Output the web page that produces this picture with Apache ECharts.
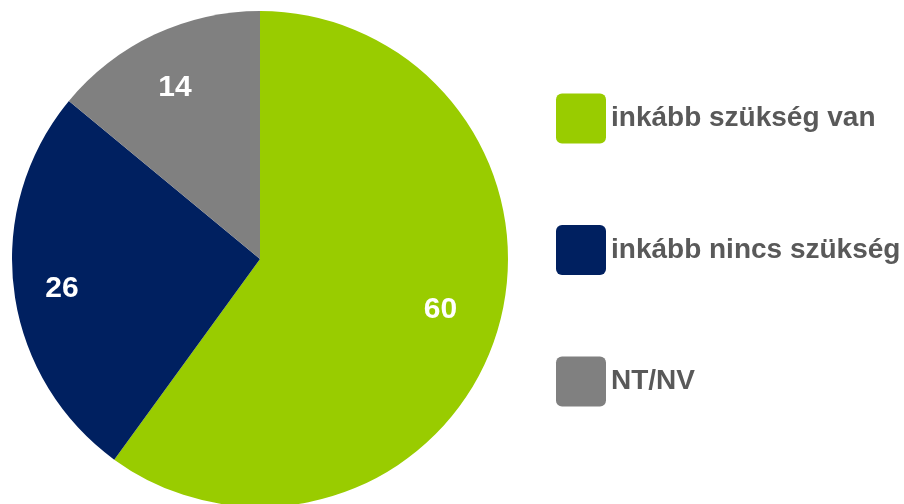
<!DOCTYPE html>
<html>
<head>
<meta charset="utf-8">
<script src="https://cdn.jsdelivr.net/npm/echarts@6/dist/echarts.min.js"></script>
<style>
html,body{margin:0;padding:0;background:#fff;}
#chart{width:904px;height:504px;}
</style>
</head>
<body>
<div id="chart"></div>
<script>
const categories = ['inkább szükség van', 'inkább nincs szükség', 'NT/NV'];
const values = [60, 26, 14];
const colors = ['#99CC00', '#002060', '#808080'];

const chart = echarts.init(document.getElementById('chart'));
const data = categories.map((c, i) => ({ name: c, value: values[i], itemStyle: { color: colors[i] } }));
const iconPath = 'path://M6,0H44A6,6,0,0,1,50,6V44A6,6,0,0,1,44,50H6A6,6,0,0,1,0,44V6A6,6,0,0,1,6,0Z';
const labelNudge = [[-6, -6], [-5, 2], [1, 4]];

chart.setOption({
  animation: false,
  backgroundColor: '#ffffff',
  legend: {
    orient: 'vertical',
    left: 556,
    top: 93.5,
    padding: 0,
    itemWidth: 50,
    itemHeight: 50,
    itemGap: 81.5,
    icon: iconPath,
    selectedMode: false,
    data: categories,
    textStyle: {
      fontFamily: 'Liberation Sans, Arial, sans-serif',
      fontWeight: 'bold',
      fontSize: 28,
      color: '#595959'
    }
  },
  series: [
    {
      type: 'pie',
      center: [260, 259],
      radius: [0, 248],
      startAngle: 90,
      clockwise: true,
      silent: true,
      label: { show: false },
      labelLine: { show: false },
      itemStyle: { borderWidth: 0 },
      data: data
    },
    {
      type: 'pie',
      center: [260, 259],
      radius: [136, 248],
      startAngle: 91,
      clockwise: true,
      silent: true,
      legendHoverLink: false,
      itemStyle: { color: 'rgba(0,0,0,0)', borderWidth: 0 },
      label: {
        show: true,
        position: 'inside',
        formatter: '{c}',
        color: '#ffffff',
        fontFamily: 'Liberation Sans, Arial, sans-serif',
        fontWeight: 'bold',
        fontSize: 30
      },
      labelLine: { show: false },
      data: categories.map((c, i) => ({ name: c, value: values[i], label: { offset: labelNudge[i] } }))
    }
  ]
});
</script>
</body>
</html>
